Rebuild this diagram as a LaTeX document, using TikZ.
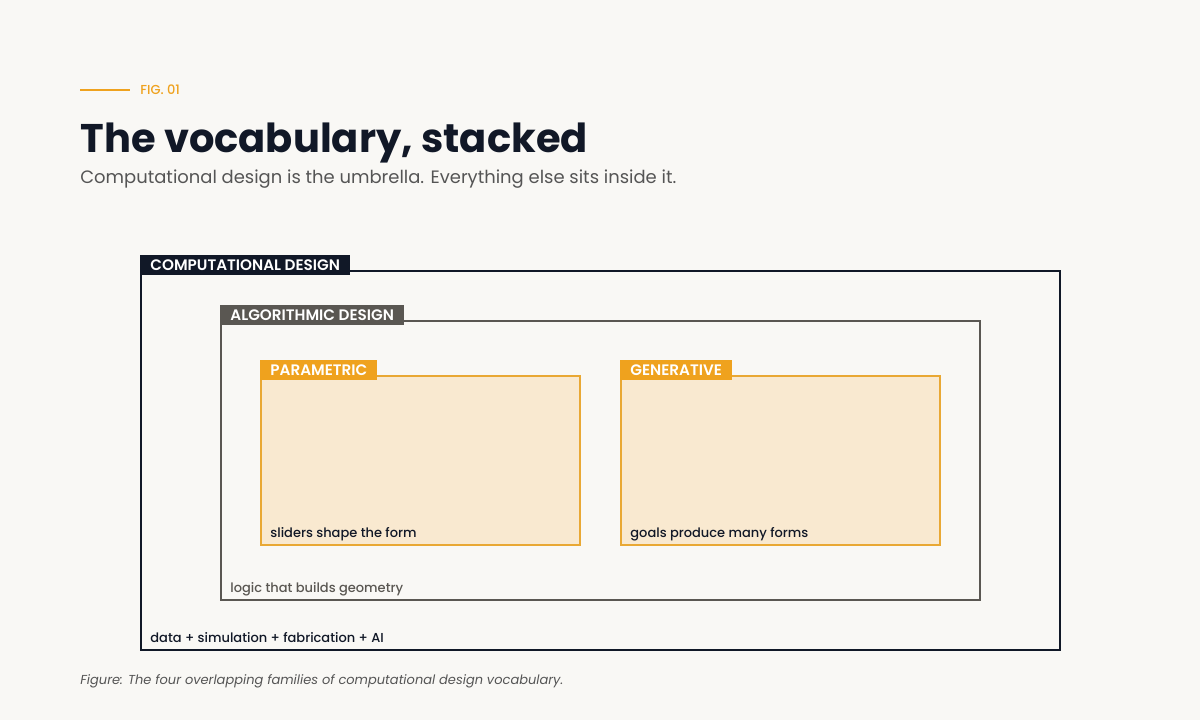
\documentclass[tikz,border=0pt]{standalone}
\usepackage{fontspec}
\setmainfont{Poppins}
\newfontfamily\popmed{Poppins Medium}
\newfontfamily\popsemi{Poppins SemiBold}
\definecolor{paper}{HTML}{F9F8F5}
\definecolor{navy}{HTML}{111827}
\definecolor{stone}{HTML}{5A5752}
\definecolor{amber}{HTML}{EFA21E}
\definecolor{amberline}{HTML}{E9A834}
\definecolor{cream}{HTML}{F9E9D0}
\definecolor{inkgray}{HTML}{555555}
\tikzset{
  tab/.style={anchor=north west, inner xsep=5pt, inner ysep=0pt, minimum height=10pt,
    text=white, font=\popsemi\fontsize{7.6}{8}\selectfont},
  note/.style={anchor=base west, inner sep=0pt, font=\popmed\fontsize{6.5}{8}\selectfont},
}
\begin{document}
\begin{tikzpicture}[x=0.5pt,y=-0.5pt]
    \useasboundingbox[fill=paper] (0,0) rectangle (1200,720);
    %% header
    \draw[amber,line width=1pt] (80,90) -- (130,90) coordinate (figrule);
    \node[anchor=west,inner sep=0pt,text=amber,font=\popmed\fontsize{6.5}{7}\selectfont]
        (fig) at (140,90) {FIG. 01};
    \node[anchor=base west,inner sep=0pt,text=navy,font=\bfseries\fontsize{20}{24}\selectfont]
        (title) at (80,152) {The vocabulary, stacked};
    \node[anchor=base west,inner sep=0pt,text=inkgray,font=\fontsize{8.97}{11}\selectfont]
        (subtitle) at (80,183.5) {Computational design is the umbrella. Everything else sits inside it.};
    %% computational design
    \draw[navy,line width=1pt] (141,271) rectangle (1060,650);
    \node[tab,fill=navy] (comptab) at (140,255) {COMPUTATIONAL DESIGN};
    \node[note,text=navy] (complbl) at (150,642) {data + simulation + fabrication + AI};
    %% algorithmic design
    \draw[stone,line width=1pt] (221,321) rectangle (980,600);
    \node[tab,fill=stone] (algotab) at (220,305) {ALGORITHMIC DESIGN};
    \node[note,text=stone] (algolbl) at (230,592) {logic that builds geometry};
    %% parametric and generative
    \foreach \name/\x/\lbl/\txt in {param/261/PARAMETRIC/sliders shape the form,
                                 gen/621/GENERATIVE/goals produce many forms} {
        \draw[amberline,fill=cream,line width=1pt] (\x,376) rectangle ++(319,169);
        \node[tab,fill=amber] (\name tab) at (\x-1,360) {\lbl};
        \node[note,text=navy] (\name lbl) at (\x+9,537) {\txt};
    }
    %% caption
    \node[anchor=base west,inner sep=0pt,text=inkgray,font=\itshape\fontsize{6.5}{8}\selectfont]
        (caption) at (80,684) {Figure: The four overlapping families of computational design vocabulary.};
\end{tikzpicture}
\end{document}
